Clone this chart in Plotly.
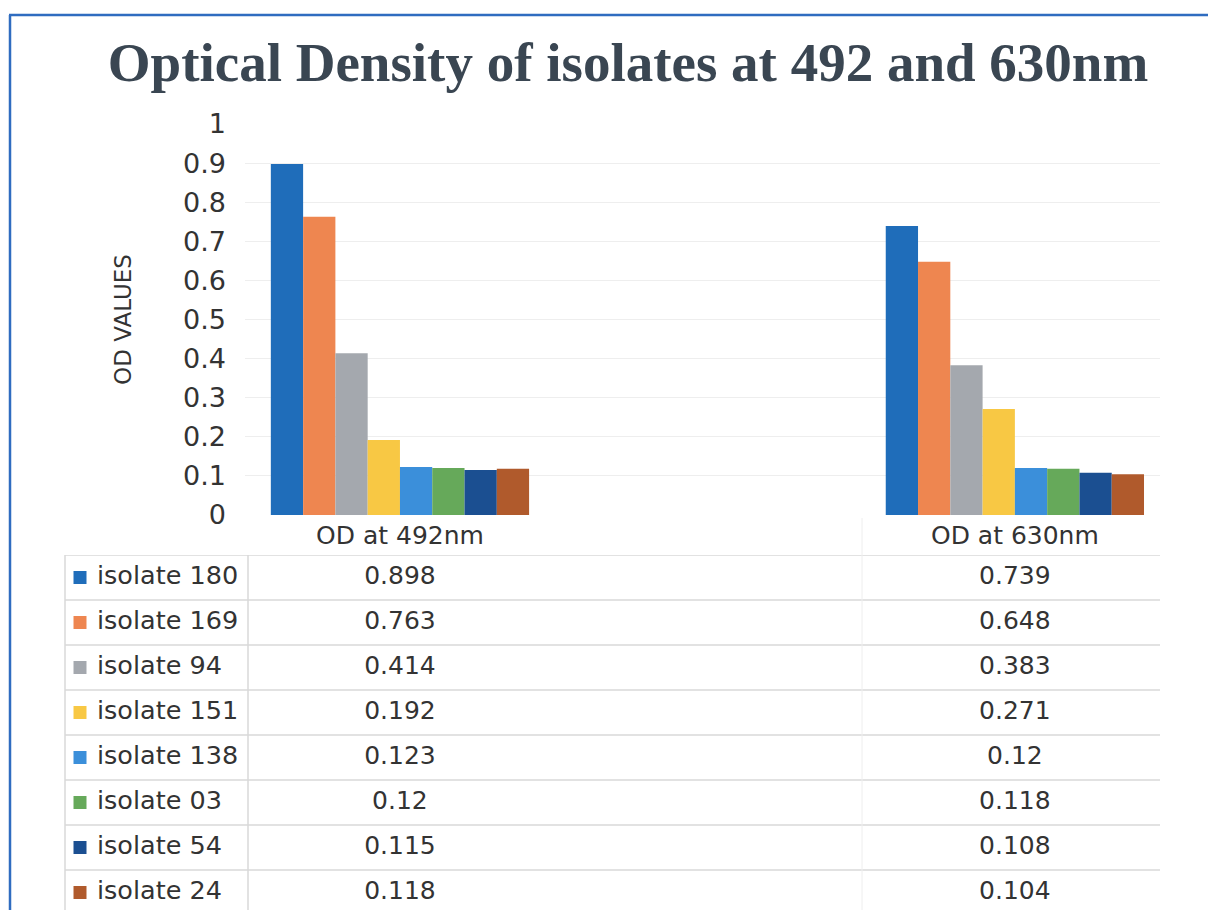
import plotly.graph_objects as go

# ---- data ----
isolates = ["isolate 180", "isolate 169", "isolate 94", "isolate 151",
            "isolate 138", "isolate 03", "isolate 54", "isolate 24"]
categories = ["OD at 492nm", "OD at 630nm"]
od_492 = [0.898, 0.763, 0.414, 0.192, 0.123, 0.12, 0.115, 0.118]
od_630 = [0.739, 0.648, 0.383, 0.271, 0.12, 0.118, 0.108, 0.104]
y_ticks = [0, 0.1, 0.2, 0.3, 0.4, 0.5, 0.6, 0.7, 0.8, 0.9, 1]
y_ticktext = ["0", "0.1", "0.2", "0.3", "0.4", "0.5", "0.6", "0.7", "0.8", "0.9", "1"]
colors = ["#1F6DBA", "#EE8650", "#A4A8AE", "#F8C844",
          "#3B8FDA", "#66A95A", "#1B4F91", "#B05A2C"]

W, H = 1208, 910
FONT = "DejaVu Sans"
TXT = "#333333"

def px(x):
    return x / W

def py(y):
    return 1 - y / H

def tx(p):  # pixel -> x2 (table label column) units
    return (p - 65) / (248 - 65)

cat_pos = list(range(len(categories)))

fig = go.Figure()

# bars
for name, a, b, c in zip(isolates, od_492, od_630, colors):
    fig.add_trace(go.Bar(x=cat_pos, y=[a, b], name=name, marker=dict(color=c, line=dict(width=0)),
                         showlegend=False, hoverinfo="name+y"))

# data table values
n = len(isolates)
rows = list(range(n))
for ci, vals in enumerate([od_492, od_630]):
    fig.add_trace(go.Scatter(x=[cat_pos[ci]] * n, y=rows, xaxis="x", yaxis="y2",
                             mode="text", text=[str(v) for v in vals],
                             textfont=dict(family=FONT, size=25, color=TXT),
                             showlegend=False, hoverinfo="skip", cliponaxis=False))

# legend keys + labels in the table
fig.add_trace(go.Scatter(x=[tx(80)] * n, y=rows, xaxis="x2", yaxis="y2",
                         mode="markers",
                         marker=dict(symbol="square", size=13, color=colors, line=dict(width=0)),
                         showlegend=False, hoverinfo="skip", cliponaxis=False))
fig.add_trace(go.Scatter(x=[tx(97)] * n, y=rows, xaxis="x2", yaxis="y2",
                         mode="text", text=isolates, textposition="middle right",
                         textfont=dict(family=FONT, size=25.5, color=TXT),
                         showlegend=False, hoverinfo="skip", cliponaxis=False))

shapes = []
# outer chart border (blue)
shapes.append(dict(type="line", xref="paper", yref="paper", x0=px(9), x1=1, y0=py(15), y1=py(15),
                   line=dict(color="#2F6CC0", width=2.5)))
shapes.append(dict(type="line", xref="paper", yref="paper", x0=px(10), x1=px(10), y0=py(15), y1=0,
                   line=dict(color="#2F6CC0", width=2.5)))
# table horizontal lines
for k in range(n):
    shapes.append(dict(type="line", xref="paper", yref="y2", x0=px(65), x1=px(1160),
                       y0=k - 0.5, y1=k - 0.5, line=dict(color="#D9D9D9", width=1.5)))
# table vertical lines
for xv in (65, 248):
    shapes.append(dict(type="line", xref="paper", yref="paper", x0=px(xv), x1=px(xv),
                       y0=py(555), y1=0, line=dict(color="#D9D9D9", width=1.5)))
shapes.append(dict(type="line", xref="paper", yref="paper", x0=px(862), x1=px(862),
                   y0=py(518), y1=0, line=dict(color="#EEEEEE", width=1)))

fig.update_layout(
    width=W, height=H, autosize=False,
    margin=dict(l=0, r=0, t=0, b=0, pad=0),
    paper_bgcolor="white", plot_bgcolor="white",
    barmode="group", bargap=0.58, bargroupgap=0,
    title=dict(text="<b>Optical Density of isolates at 492 and 630nm</b>",
               x=px(628), xanchor="center", y=py(62), yanchor="middle",
               font=dict(family="Liberation Serif", size=55, color="#3A4652"),
               automargin=False),
    xaxis=dict(domain=[px(245), px(1160)], range=[-0.252, 1.236],
               tickmode="array", tickvals=cat_pos, ticktext=categories,
               tickfont=dict(family=FONT, size=25, color=TXT),
               showgrid=False, zeroline=False, showline=False, ticks="",
               ticklabelstandoff=3, anchor="y", automargin=False),
    yaxis=dict(domain=[py(515), py(124)], range=[0, 1],
               tickmode="array", tickvals=y_ticks, ticktext=y_ticktext,
               tickfont=dict(family=FONT, size=27, color=TXT),
               showgrid=True, gridcolor="#EEEEEE", gridwidth=1,
               zeroline=False, showline=False, ticks="", ticklabelstandoff=18,
               title=dict(text="OD VALUES", font=dict(family=FONT, size=23, color=TXT), standoff=44),
               anchor="x", automargin=False),
    yaxis2=dict(domain=[0, py(555)], range=[7.389, -0.5], visible=False, anchor="x",
                automargin=False),
    xaxis2=dict(domain=[px(65), px(248)], range=[0, 1], visible=False, anchor="y2",
                automargin=False),
    shapes=shapes,
)

fig.write_html("out.html", config={"displayModeBar": False},
               post_script="document.body.style.margin='0';document.body.style.padding='0';")
